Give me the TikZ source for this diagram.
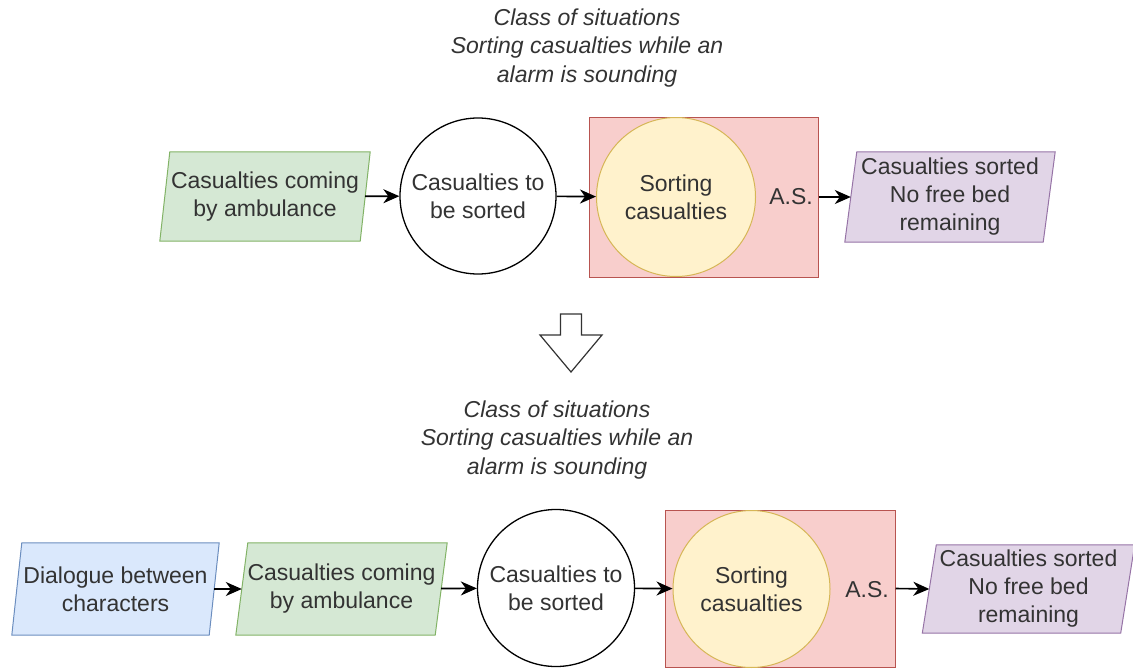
\documentclass[tikz,border=0pt]{standalone}
\usepackage{fontspec}
\setmainfont{Liberation Sans}
\usetikzlibrary{arrows.meta,backgrounds}
\definecolor{gfill}{HTML}{D5E8D4}\definecolor{gline}{HTML}{82B366}
\definecolor{bfill}{HTML}{DAE8FC}\definecolor{bline}{HTML}{6C8EBF}
\definecolor{pfill}{HTML}{E1D5E7}\definecolor{pline}{HTML}{9673A6}
\definecolor{rfill}{HTML}{F8CECC}\definecolor{rline}{HTML}{B85450}
\definecolor{yfill}{HTML}{FFF2CC}\definecolor{yline}{HTML}{D6B656}
\definecolor{txt}{HTML}{333333}
\tikzset{
  base/.style={font=\fontsize{23}{28}\selectfont, text=txt, align=center, inner sep=0pt},
  parabox/.style={base, minimum height=90pt},
  circbox/.style={base, circle, draw=black, line width=1.3pt, fill=white},
  sortcirc/.style={base, circle, draw=yline, line width=1pt, fill=yfill},
  asbox/.style={draw=rline, line width=1pt, fill=rfill, inner sep=0pt},
  title/.style={base, font=\fontsize{23}{28.5}\selectfont\itshape},
  conn/.style={line width=1.6pt, -{Stealth[length=16pt,width=14pt,inset=5pt]}},
}
% parallelogram behind a node: #1 node, #2 fill, #3 line, #4 half slant
\newcommand{\paraback}[4]{%
  \begin{scope}[on background layer]
  \draw[fill=#2, draw=#3, line width=1pt]
    ([xshift=#4]#1.north west) -- ([xshift=#4]#1.north east) --
    ([xshift=-#4]#1.south east) -- ([xshift=-#4]#1.south west) -- cycle;
  \end{scope}}
\begin{document}
\begin{tikzpicture}[x=1pt,y=-1pt]
\useasboundingbox (0,0) rectangle (1133,669);

% ---------- top row ----------
\node[title] (t1) at (587,48) {Class of situations\\Sorting casualties while an\\alarm is sounding};

\node[parabox, minimum width=200pt, minimum height=89pt] (g1) at (265,196.5) {Casualties coming\\by ambulance};
\paraback{g1}{gfill}{gline}{5pt}
\node[circbox, minimum size=156pt] (c1) at (478,196) {Casualties to\\be sorted};
\node[asbox, minimum width=229pt, minimum height=160pt] (r1) at (703.5,197) {};
\node[sortcirc, minimum size=159pt] (y1) at (676,197) {Sorting\\casualties};
\node[base] (a1) at (791,197) {A.S.};
\node[parabox, minimum width=198pt] (p1) at (950,197) {Casualties sorted\\No free bed\\remaining};
\paraback{p1}{pfill}{pline}{6pt}

\draw[conn] (g1) -- (c1);
\draw[conn] (c1) -- (y1);
\draw[conn] (r1.east) -- (p1.west);

% ---------- down arrow ----------
\draw[line width=1.2pt, draw=black!80, fill=white, line join=miter]
  (560.5,314) -- (581.5,314) -- (581.5,335) -- (602,335) -- (571,372)
  -- (540,335) -- (560.5,335) -- cycle;

% ---------- bottom row ----------
\node[title] (t2) at (557,440) {Class of situations\\Sorting casualties while an\\alarm is sounding};

\node[parabox, minimum width=197pt, minimum height=92pt] (b2) at (115.5,589) {Dialogue between\\characters};
\paraback{b2}{bfill}{bline}{5pt}
\node[parabox, minimum width=199pt, minimum height=92pt] (g2) at (341.5,589) {Casualties coming\\by ambulance};
\paraback{g2}{gfill}{gline}{6pt}
\node[circbox, minimum size=157pt] (c2) at (556,588) {Casualties to\\be sorted};
\node[asbox, minimum width=230pt, minimum height=157pt] (r2) at (780,588.5) {};
\node[sortcirc, minimum size=157pt] (y2) at (751.5,589) {Sorting\\casualties};
\node[base] (a2) at (867,590) {A.S.};
\node[parabox, minimum width=198pt, minimum height=88pt] (p2) at (1028.5,589) {Casualties sorted\\No free bed\\remaining};
\paraback{p2}{pfill}{pline}{7pt}

\draw[conn] (b2) -- (g2);
\draw[conn] (g2) -- (c2);
\draw[conn] (c2) -- (y2);
\draw[conn] (r2.east) -- (p2.west);
\end{tikzpicture}
\end{document}
